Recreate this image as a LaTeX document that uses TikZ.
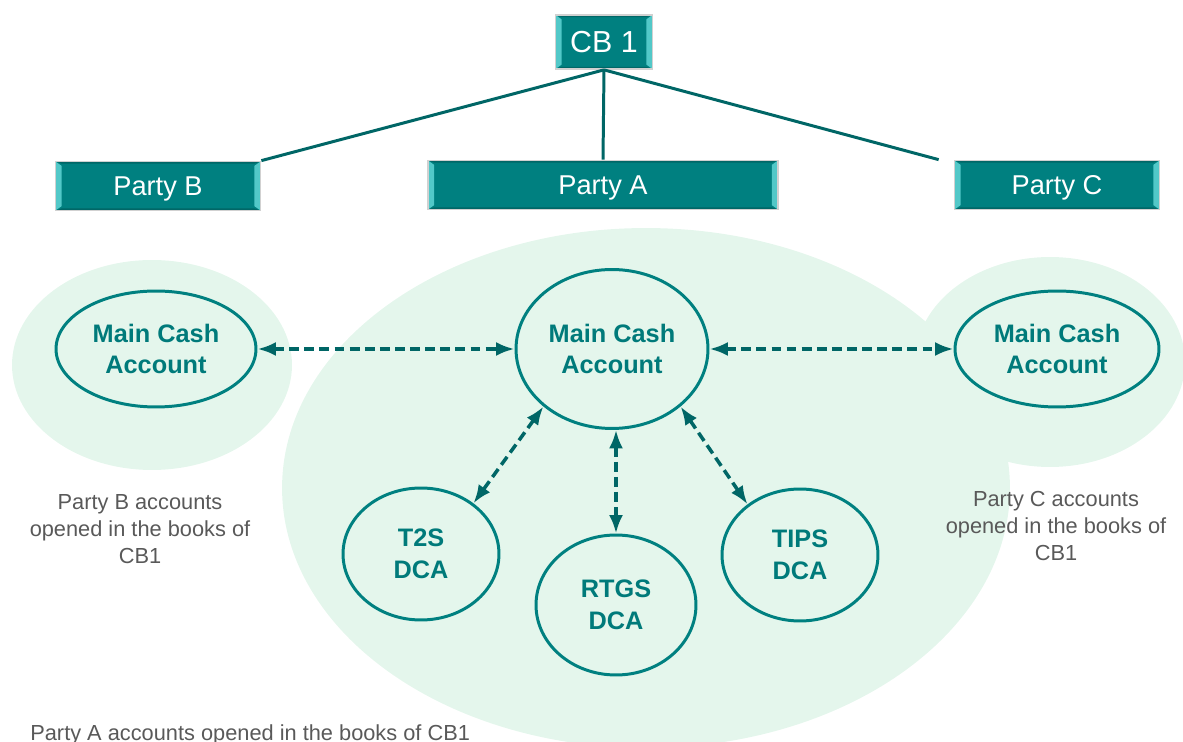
\documentclass[tikz,border=0pt]{standalone}
\usepackage{fontspec}
\setmainfont{Liberation Sans}
\usetikzlibrary{shapes.geometric,arrows.meta}
\definecolor{boxteal}{HTML}{008080}
\definecolor{bevellight}{HTML}{52C8C8}
\definecolor{linkteal}{HTML}{006666}
\definecolor{acctext}{HTML}{007A7A}
\definecolor{bggreen}{HTML}{E4F6EC}
\definecolor{notegray}{HTML}{595959}
\begin{document}
\begin{tikzpicture}[x=0.02cm, y=-0.02cm,
    party/.style={draw=black!18, line width=1pt, fill=boxteal, text=white, inner sep=0pt,
      text depth=0pt, font=\fontsize{15.5}{18}\selectfont,
      path picture={
        \fill[bevellight] (path picture bounding box.south west) -- (path picture bounding box.north west)
          -- ([shift={(3.5pt,-2.5pt)}]path picture bounding box.north west) -- ([shift={(3.5pt,2.5pt)}]path picture bounding box.south west) -- cycle;
        \fill[bevellight] (path picture bounding box.south east) -- (path picture bounding box.north east)
          -- ([shift={(-3.5pt,-2.5pt)}]path picture bounding box.north east) -- ([shift={(-3.5pt,2.5pt)}]path picture bounding box.south east) -- cycle;
        \fill[boxteal!80!black] (path picture bounding box.north west) -- (path picture bounding box.north east)
          -- ([shift={(-3.5pt,-1.2pt)}]path picture bounding box.north east) -- ([shift={(3.5pt,-1.2pt)}]path picture bounding box.north west) -- cycle;
        \fill[boxteal!80!black] (path picture bounding box.south west) -- (path picture bounding box.south east)
          -- ([shift={(-3.5pt,1.2pt)}]path picture bounding box.south east) -- ([shift={(3.5pt,1.2pt)}]path picture bounding box.south west) -- cycle;
      }},
    area/.style={ellipse, fill=bggreen, draw=none, inner sep=0pt},
    acct/.style={ellipse, draw=boxteal, line width=1.7pt, fill=bggreen, text=acctext, inner sep=0pt,
      align=center, font=\bfseries\fontsize{14.4}{18}\selectfont},
    trunk/.style={draw=linkteal, line width=1.7pt},
    link/.style={draw=linkteal, line width=2pt, dash pattern=on 5.6pt off 3pt,
      {Latex[length=10.5pt,width=8pt]}-{Latex[length=10.5pt,width=8pt]}},
    note/.style={text=notegray, align=center, font=\fontsize{12.4}{15.3}\selectfont}]

    \useasboundingbox (0,0) rectangle (1183,742);

    % shaded areas
    \node[area, minimum width=5.6cm, minimum height=4.2cm] at (152,365) (areaB) {};
    \node[area, minimum width=5.4cm, minimum height=4.2cm] at (1050,362) (areaC) {};
    \node[area, minimum width=14.56cm, minimum height=10.4cm] at (646,488) (areaA) {};

    % boxes
    \node[party, minimum width=1.94cm, minimum height=1.08cm, font=\fontsize{17.3}{20}\selectfont] at (604,42) (CB) {CB 1};
    \node[party, minimum width=4.1cm, minimum height=0.98cm] at (158,186) (B) {Party B};
    \node[party, minimum width=7cm, minimum height=0.98cm] at (603,185) (A) {Party A};
    \node[party, minimum width=4.1cm, minimum height=0.98cm] at (1057,185) (C) {Party C};

    \draw[trunk] (CB.south) -- (B.north east);
    \draw[trunk] (CB.south) -- (A.north);
    \draw[trunk] (CB.south) -- ([xshift=-0.3cm]C.north west);

    % accounts
    \node[acct, minimum width=4cm, minimum height=2.32cm] at (156,349) (mcB) {Main Cash\\Account};
    \node[acct, minimum width=3.84cm, minimum height=3.18cm] at (612,349) (mcA) {Main Cash\\Account};
    \node[acct, minimum width=4.08cm, minimum height=2.32cm] at (1057,349) (mcC) {Main Cash\\Account};
    \node[acct, minimum width=3.12cm, minimum height=2.64cm] at (421,554) (t2s) {T2S\\DCA};
    \node[acct, minimum width=3.2cm, minimum height=2.8cm] at (616,605) (rtgs) {RTGS\\DCA};
    \node[acct, minimum width=3.12cm, minimum height=2.64cm] at (800,555) (tips) {TIPS\\DCA};

    \draw[link] (mcB) -- (mcA);
    \draw[link] (mcA) -- (mcC);
    \draw[link] (mcA.220) -- (t2s.44);
    \draw[link] (rtgs.north |- mcA.south) -- (rtgs.north);
    \draw[link] (mcA.320) -- (tips.136);

    % notes
    \node[note] at (140,529) (noteB) {Party B accounts\\opened in the books of\\CB1};
    \node[note] at (1056,526) (noteC) {Party C accounts\\opened in the books of\\CB1};
    \node[note, anchor=base west, inner sep=0pt] at (30,740) (noteA) {Party A accounts opened in the books of CB1};

\end{tikzpicture}
\end{document}
